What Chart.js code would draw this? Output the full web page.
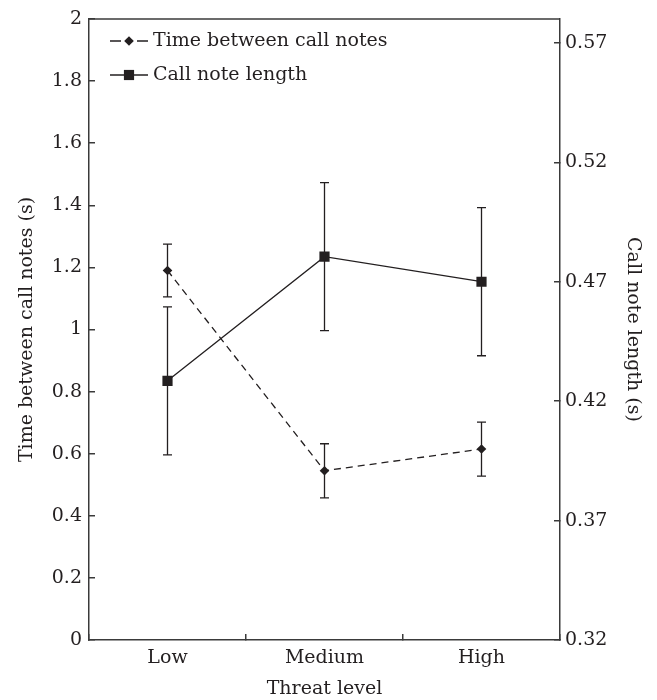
<!DOCTYPE html>
<html>
<head>
<meta charset="utf-8">
<script src="https://cdn.jsdelivr.net/npm/chart.js@4"></script>
<style>
  body { margin: 0; background: #fff; }
  canvas { display: block; }
</style>
</head>
<body>
<canvas id="chart" width="657" height="700"></canvas>
<script>
const categories = ['Low', 'Medium', 'High'];
const timeBetween = [1.19, 0.545, 0.615];
const timeBetweenErr = [0.085, 0.087, 0.087];
const noteLength = [0.4285, 0.4805, 0.47];
const noteLengthErr = [0.031, 0.031, 0.031];
const timeTicks = [0, 0.2, 0.4, 0.6, 0.8, 1, 1.2, 1.4, 1.6, 1.8, 2];
const lengthTicks = [0.32, 0.37, 0.42, 0.47, 0.52, 0.57];

const INK = '#231f20';
const AXIS = '#3a3a3a';
const FONT = 'DejaVu Serif';

// error bars, top frame line and the legend inside the plot
const extras = {
    id: 'extras',
    afterDatasetsDraw(chart) {
        const { ctx, chartArea } = chart;
        ctx.save();
        chart.data.datasets.forEach((ds, i) => {
            const meta = chart.getDatasetMeta(i);
            const scale = chart.scales[ds.yAxisID];
            ctx.strokeStyle = INK;
            ctx.lineWidth = 1.3;
            ctx.setLineDash([]);
            meta.data.forEach((pt, j) => {
                const hi = scale.getPixelForValue(ds.data[j] + ds.errors[j]);
                const lo = scale.getPixelForValue(ds.data[j] - ds.errors[j]);
                ctx.beginPath();
                ctx.moveTo(pt.x, hi); ctx.lineTo(pt.x, lo);
                ctx.moveTo(pt.x - 4.5, hi); ctx.lineTo(pt.x + 4.5, hi);
                ctx.moveTo(pt.x - 4.5, lo); ctx.lineTo(pt.x + 4.5, lo);
                ctx.stroke();
            });
        });

        ctx.strokeStyle = AXIS;
        ctx.lineWidth = 1.5;
        ctx.beginPath();
        ctx.moveTo(chartArea.left, chartArea.top);
        ctx.lineTo(chartArea.right, chartArea.top);
        ctx.stroke();

        // legend
        const rows = [41, 75];
        chart.data.datasets.forEach((ds, i) => {
            const y = rows[i];
            ctx.strokeStyle = INK;
            ctx.lineWidth = 1.3;
            ctx.beginPath();
            if (ds.borderDash && ds.borderDash.length) {
                ctx.moveTo(110, y); ctx.lineTo(121, y);
                ctx.moveTo(137, y); ctx.lineTo(148, y);
            } else {
                ctx.moveTo(110, y); ctx.lineTo(148, y);
            }
            ctx.stroke();
            ctx.fillStyle = INK;
            Chart.helpers.drawPoint(ctx, {
                pointStyle: ds.pointStyle,
                radius: ds.pointRadius,
                borderWidth: 0
            }, 129, y);
            ctx.fillStyle = INK;
            ctx.font = '19px "' + FONT + '"';
            ctx.textBaseline = 'middle';
            ctx.textAlign = 'left';
            ctx.fillText(ds.label, 153, y);
        });
        ctx.restore();
    }
};

const fitY = width => s => {
    s.width = width;
    s.paddingTop = 0;
    s.paddingBottom = 0;
};

const ctx = document.getElementById('chart').getContext('2d');
new Chart(ctx, {
    type: 'line',
    data: {
        labels: categories,
        datasets: [{
            label: 'Time between call notes',
            data: timeBetween,
            errors: timeBetweenErr,
            yAxisID: 'y',
            borderColor: INK,
            backgroundColor: INK,
            borderWidth: 1.3,
            borderDash: [7, 5],
            pointStyle: 'rectRot',
            pointRadius: 4.8,
            pointBorderWidth: 0,
            tension: 0
        }, {
            label: 'Call note length',
            data: noteLength,
            errors: noteLengthErr,
            yAxisID: 'y1',
            borderColor: INK,
            backgroundColor: INK,
            borderWidth: 1.3,
            pointStyle: 'rect',
            pointRadius: 7.2,
            pointBorderWidth: 0,
            tension: 0
        }]
    },
    options: {
        responsive: false,
        animation: false,
        layout: { padding: { top: 19, left: 0, right: 0, bottom: 0 } },
        plugins: {
            legend: { display: false },
            tooltip: { enabled: false }
        },
        scales: {
            x: {
                offset: true,
                grid: { offset: true, drawOnChartArea: false, tickLength: -6, color: AXIS, lineWidth: 1.5 },
                border: { color: AXIS, width: 1.5 },
                ticks: { color: INK, font: { family: FONT, size: 19 }, padding: 13 },
                title: { display: true, text: 'Threat level', color: INK, font: { family: FONT, size: 19 }, padding: { top: 0, bottom: 0 } },
                afterFit: s => { s.height = 60; }
            },
            y: {
                position: 'left',
                min: 0,
                max: 2,
                afterBuildTicks: s => { s.ticks = timeTicks.map(v => ({ value: v })); },
                grid: { drawOnChartArea: false, tickLength: -6, color: AXIS, lineWidth: 1.5 },
                border: { color: AXIS, width: 1.5 },
                ticks: { color: INK, font: { family: FONT, size: 19 }, padding: 13, callback: v => String(v) },
                title: { display: true, text: 'Time between call notes (s)', color: INK, font: { family: FONT, size: 19 }, padding: { top: 16, bottom: 0 } },
                afterFit: fitY(89)
            },
            y1: {
                position: 'right',
                min: 0.32,
                max: 0.58,
                afterBuildTicks: s => { s.ticks = lengthTicks.map(v => ({ value: v })); },
                grid: { drawOnChartArea: false, tickLength: -6, color: AXIS, lineWidth: 1.5 },
                border: { color: AXIS, width: 1.5 },
                ticks: { color: INK, font: { family: FONT, size: 19 }, padding: 11, callback: v => v.toFixed(2) },
                title: { display: true, text: 'Call note length (s)', color: INK, font: { family: FONT, size: 19 }, padding: { top: 13, bottom: 0 } },
                afterFit: fitY(97)
            }
        }
    },
    plugins: [extras]
});
</script>
</body>
</html>
